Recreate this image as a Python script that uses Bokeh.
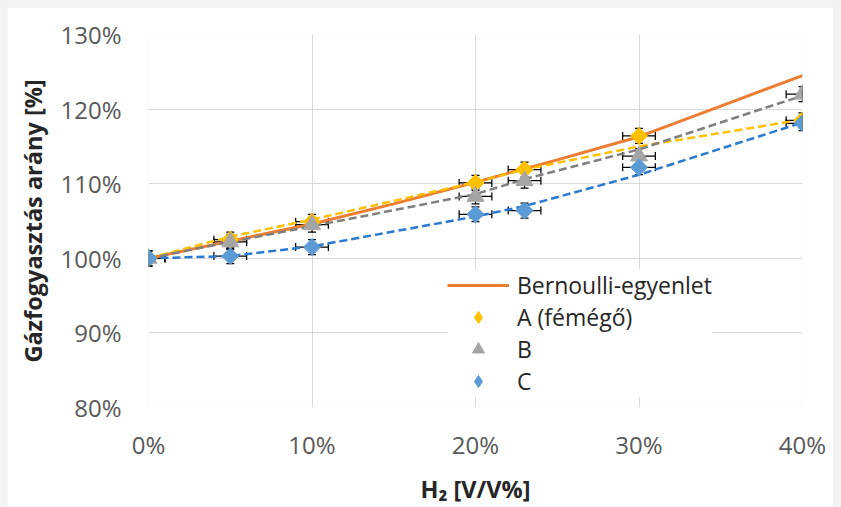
import numpy as np
from bokeh.plotting import figure
from bokeh.models import (Range1d, ColumnDataSource, Whisker, TeeHead, Legend, LegendItem,
                          PrintfTickFormatter, FixedTicker)
from bokeh.layouts import column
from bokeh.embed import file_html
from bokeh.resources import INLINE

# ---- data ----
h2 = [0, 5, 10, 20, 23, 30, 40]
a_vals = [100, 102.5, 104.9, 110.1, 111.9, 116.4, 118.5]
b_vals = [100, 102.2, 104.5, 108.3, 110.4, 113.7, 122.0]
c_vals = [100, 100.3, 101.5, 105.9, 106.4, 112.2, 118.1]
x_err = [1, 1, 1, 1, 1, 1, 1]
y_err = [1, 1, 1, 1, 1, 1, 1]

a_trend = [100, 102.9, 105.2, 110.2, 111.9, 115.0, 118.6]
b_trend = [100, 102.2, 104.3, 108.6, 110.6, 114.6, 121.8]
c_trend = [100, 100.3, 101.6, 105.6, 107.0, 111.2, 118.2]

bern_x = [0, 5, 10, 15, 20, 25, 30, 35, 40]
bern_y = [100, 102.3, 104.6, 107.3, 110.2, 113.2, 116.3, 120.4, 124.5]

x_ticks = [0, 10, 20, 30, 40]
y_ticks = [80, 90, 100, 110, 120, 130]

labels = ["Bernoulli-egyenlet", "A (fémégő)", "B", "C"]
ORANGE = "#ED7D31"
YELLOW = "#FFC000"
GRAY = "#A5A5A5"
GRAY_D = "#7F7F7F"
BLUE = "#5B9BD5"
BLUE_D = "#2A7AD0"
FONT = "Open Sans"

p = figure(width=826, height=500, x_range=Range1d(0, 40), y_range=Range1d(80, 130),
           output_backend="svg", toolbar_location=None,
           min_border_left=141, min_border_right=31, min_border_top=27, min_border_bottom=98)
p.outline_line_color = None
p.background_fill_color = "white"
p.border_fill_color = "white"

for ax in (p.xaxis[0], p.yaxis[0]):
    ax.axis_line_color = None
    ax.major_tick_line_color = None
    ax.minor_tick_line_color = None
    ax.major_tick_out = 0
    ax.major_tick_in = 0
    ax.major_label_text_font = FONT
    ax.major_label_text_font_size = "24px"
    ax.major_label_text_color = "#595959"
    ax.axis_label_text_font = FONT
    ax.axis_label_text_font_size = "23.5px"
    ax.axis_label_text_font_style = "bold"
    ax.axis_label_text_color = "#262626"
    ax.formatter = PrintfTickFormatter(format="%d%%")

p.xaxis[0].ticker = FixedTicker(ticks=x_ticks)
p.yaxis[0].ticker = FixedTicker(ticks=y_ticks)
p.xaxis[0].major_label_standoff = 20
p.yaxis[0].major_label_standoff = 27
p.xaxis[0].axis_label = "H₂ [V/V%]"
p.yaxis[0].axis_label = "Gázfogyasztás arány [%]"
p.xaxis[0].axis_label_standoff = 9
p.yaxis[0].axis_label_standoff = 8

p.xgrid[0].ticker = FixedTicker(ticks=x_ticks)
p.ygrid[0].ticker = FixedTicker(ticks=y_ticks)
for g in (p.xgrid[0], p.ygrid[0]):
    g.grid_line_color = "#D9D9D9"
    g.grid_line_width = 1

# Bernoulli line
r_bern = p.line(bern_x, bern_y, line_color=ORANGE, line_width=3)

# dashed trend lines
p.line(h2, a_trend, line_color=YELLOW, line_width=2.5, line_dash="8 4")
p.line(h2, b_trend, line_color=GRAY_D, line_width=2.5, line_dash="8 4")
p.line(h2, c_trend, line_color=BLUE_D, line_width=2.5, line_dash="8 4")

# error bars
for vals in (a_vals, b_vals, c_vals):
    x = np.array(h2, dtype=float)
    y = np.array(vals, dtype=float)
    xe = np.array(x_err, dtype=float)
    ye = np.array(y_err, dtype=float)
    src = ColumnDataSource(dict(x=x, y=y,
                                xl=np.clip(x - xe, 0, 40), xu=np.clip(x + xe, 0, 40),
                                yl=y - ye, yu=y + ye))
    wv = Whisker(source=src, base="x", lower="yl", upper="yu", dimension="height",
                 line_color="black", line_width=1.25, level="underlay",
                 upper_head=TeeHead(size=8, line_color="black", line_width=1.25),
                 lower_head=TeeHead(size=8, line_color="black", line_width=1.25))
    wh = Whisker(source=src, base="y", lower="xl", upper="xu", dimension="width",
                 line_color="black", line_width=1.25, level="underlay",
                 upper_head=TeeHead(size=8, line_color="black", line_width=1.25),
                 lower_head=TeeHead(size=8, line_color="black", line_width=1.25))
    p.add_layout(wv)
    p.add_layout(wh)

r_a = p.scatter(h2, a_vals, marker="square", angle=np.pi / 4, size=12,
                fill_color=YELLOW, line_color=YELLOW)
r_b = p.scatter(h2, b_vals, marker="triangle", size=17,
                fill_color=GRAY, line_color=GRAY)
r_c = p.scatter(h2, c_vals, marker="square", angle=np.pi / 4, size=12,
                fill_color=BLUE, line_color=BLUE)

# hidden twins of the A and C series, used only to draw diamond keys in the legend
k_a = p.scatter(h2, a_vals, marker="diamond", size=14,
                fill_color=YELLOW, line_color=YELLOW, visible=False)
k_c = p.scatter(h2, c_vals, marker="diamond", size=14,
                fill_color=BLUE, line_color=BLUE, visible=False)

legend = Legend(items=[LegendItem(label=labels[0], renderers=[r_bern]),
                       LegendItem(label=labels[1], renderers=[k_a]),
                       LegendItem(label=labels[2], renderers=[r_b]),
                       LegendItem(label=labels[3], renderers=[k_c])],
                location=(299, 10), border_line_color=None,
                background_fill_color="white", background_fill_alpha=1.0,
                inactive_fill_alpha=0.0,
                label_text_font=FONT, label_text_font_size="23px", label_text_color="#262626",
                glyph_width=62, glyph_height=30, label_height=30, spacing=0,
                padding=4, margin=0, label_standoff=8)
p.add_layout(legend)

layout = column(p, styles={"background-color": "#F2F2F2", "padding": "7px 8px 0px 7px"})

open("out.html", "w").write(file_html(layout, INLINE))
